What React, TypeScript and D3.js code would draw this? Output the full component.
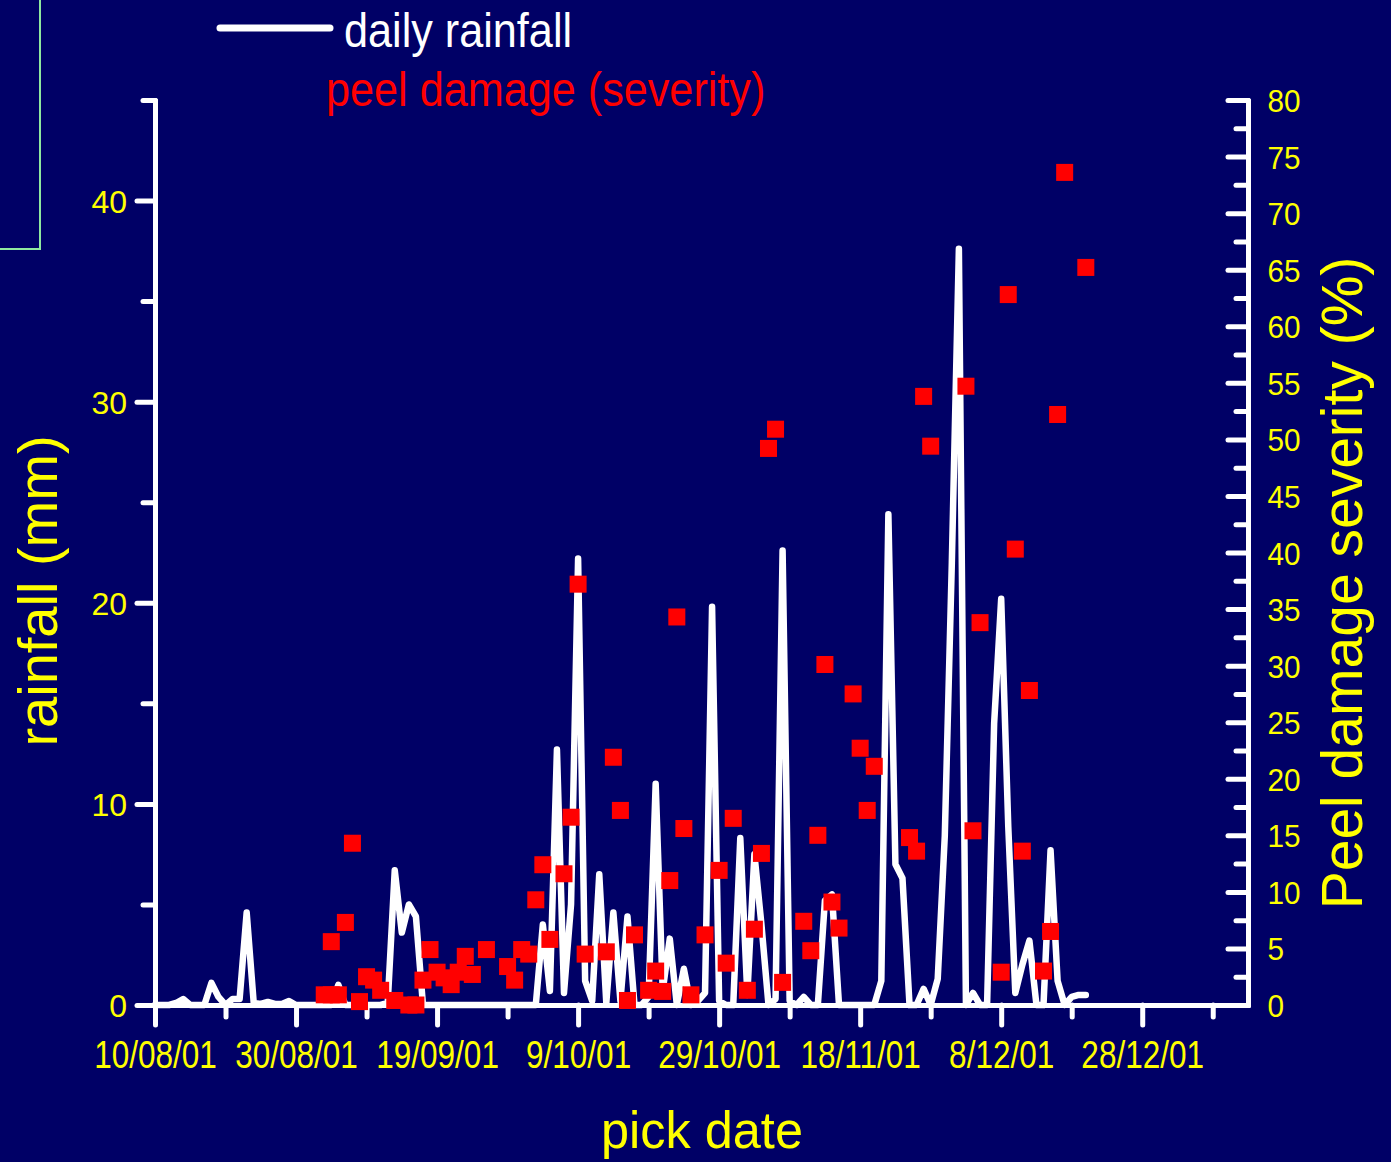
import React, { useEffect, useRef } from 'react';
import * as d3 from 'd3';

// daily rainfall (mm), one value per day starting 10/08/01
const rainStart = '2001-08-10';
const rainfallMm = [
  0, 0, 0, 0.1, 0.3, 0, 0, 0, 1.1, 0.4,
  0, 0.3, 0.3, 4.6, 0.1, 0.05, 0.15, 0.05, 0.05, 0.2,
  0, 0, 0, 0, 0, 0, 1.0, 0, 0, 0,
  0, 0, 0, 0.1, 6.7, 3.6, 5.0, 4.4, 0, 0,
  0, 0, 0, 0, 0, 0, 0, 0, 0, 0,
  0, 0, 0, 0, 0, 4.0, 0.7, 12.7, 0.6, 5.0,
  22.2, 1.2, 0.2, 6.5, 0.1, 4.6, 0.2, 4.4, 0, 0,
  0.4, 11.0, 0.7, 3.3, 0, 1.8, 0, 0.2, 0.6, 19.8,
  0.2, 0, 0, 8.3, 0.5, 7.5, 4.0, 0, 0.3, 22.6,
  0.2, 0, 0.4, 0, 0, 5.2, 5.5, 0, 0, 0,
  0, 0, 0, 1.2, 24.4, 7.0, 6.3, 0, 0, 0.8,
  0, 1.3, 8.4, 22.0, 37.6, 0, 0.6, 0, 0, 14.0,
  20.2, 8.9, 0.6, 2.0, 3.2, 0, 0, 7.7, 1.2, 0,
  0.4, 0.5, 0.5,
];

// peel damage picks: day offset from 10/08/01 and severity (%)
const pickDay = [
  24, 25, 26, 25, 27, 28, 29, 30, 31, 32,
  34, 36, 37, 38, 39, 40, 41, 42, 43, 44,
  45, 47, 50, 51, 52, 53, 54, 55, 56, 58,
  59, 60, 61, 64, 65, 66, 67, 68, 70, 71,
  72, 73, 74, 75, 76, 78, 80, 81, 82, 84,
  85, 86, 87, 88, 89, 92, 93, 94, 95, 96,
  97, 99, 100, 101, 102, 107, 108, 109, 110, 115,
  116, 117, 120, 121, 122, 123, 124, 126, 127, 128,
  129, 132,
];
const peelSeverity = [
  0.9, 0.9, 0.9, 5.6, 7.3, 14.3, 0.3, 2.5, 2.2, 1.3,
  0.4, 0, 0, 2.2, 4.9, 2.9, 2.4, 1.8, 2.9, 4.3,
  2.7, 4.9, 3.4, 2.2, 4.9, 4.5, 9.3, 12.4, 5.8, 11.6,
  16.6, 37.2, 4.5, 4.7, 21.9, 17.2, 0.4, 6.2, 1.3, 3.0,
  1.2, 11.0, 34.3, 15.6, 0.9, 6.2, 11.9, 3.7, 16.5, 1.3,
  6.7, 13.4, 49.2, 50.9, 2.0, 7.4, 4.8, 15.0, 30.1, 9.1,
  6.8, 27.5, 22.7, 17.2, 21.1, 14.8, 13.6, 53.8, 49.4, 54.7,
  15.4, 33.8, 2.9, 62.8, 40.3, 13.6, 27.8, 3.0, 6.5, 52.2,
  73.6, 65.2,
];

// axis ticks
const dateMajorDays = [0, 20, 40, 60, 80, 100, 120, 140];
const dateMinorDays = [10, 30, 50, 70, 90, 110, 130, 150];
const dateEndDay = 155;
const rainMajor = [0, 10, 20, 30, 40];
const rainMinor = [5, 15, 25, 35, 45];
const rainMax = 45;
const peelMajor = d3.range(0, 81, 5);
const peelMinor = d3.range(2.5, 80, 5);
const peelMax = 80;

const W = 1391;
const H = 1162;
const BG = '#000066';
const FONT = '"Liberation Sans", Arial, sans-serif';

function RainChart() {
  const ref = useRef<SVGSVGElement>(null);

  useEffect(() => {
    drawChart();
  }, []);

  function drawChart() {
    const svg = d3.select(ref.current);
    svg.selectAll('*').remove();

    const margin = { top: 100, right: 143, bottom: 157, left: 155 };
    const plotW = W - margin.left - margin.right;
    const plotH = H - margin.top - margin.bottom;

    const start = new Date(rainStart + 'T00:00:00Z');
    const day = (n: number) => d3.utcDay.offset(start, n);

    const x = d3.scaleUtc().domain([start, day(dateEndDay)]).range([0, plotW]);
    const yL = d3.scaleLinear().domain([0, rainMax]).range([plotH, 0]);
    const yR = d3.scaleLinear().domain([0, peelMax]).range([plotH, 0]);

    svg.append('rect').attr('width', W).attr('height', H).attr('fill', BG);

    // leftover frame in the corner
    svg.append('path')
      .attr('d', 'M40,-2 V249 H-2')
      .attr('fill', 'none')
      .attr('stroke', '#8fe8a0')
      .attr('stroke-width', 2);

    const g = svg.append('g').attr('transform', `translate(${margin.left},${margin.top})`);

    const styleAxis = (sel: any) => {
      sel.selectAll('path.domain')
        .attr('stroke', '#fff')
        .attr('stroke-width', 5)
        .attr('stroke-linecap', 'round');
      sel.selectAll('.tick line')
        .attr('stroke', '#fff')
        .attr('stroke-width', 5)
        .attr('stroke-linecap', 'round');
      sel.selectAll('.tick text')
        .attr('fill', '#ffff00')
        .attr('font-family', FONT);
    };

    // x axis (pick date)
    const xMinor = g.append('g').attr('transform', `translate(0,${plotH})`)
      .call(d3.axisBottom(x).tickValues(dateMinorDays.map(day)).tickSize(12).tickSizeOuter(0).tickFormat(() => ''));
    styleAxis(xMinor);
    const xMajor = g.append('g').attr('transform', `translate(0,${plotH})`)
      .call(d3.axisBottom(x).tickValues(dateMajorDays.map(day)).tickSize(20).tickSizeOuter(0)
        .tickFormat((d: any) => d3.utcFormat('%-d/%m/%y')(d)));
    styleAxis(xMajor);
    xMajor.selectAll('.tick text')
      .attr('y', 63).attr('dy', 0)
      .style('font-size', '38px')
      .attr('transform', 'scale(0.83,1)');

    // left axis (rainfall)
    const lMinor = g.append('g')
      .call(d3.axisLeft(yL).tickValues(rainMinor).tickSize(12).tickSizeOuter(0).tickFormat(() => ''));
    styleAxis(lMinor);
    const lMajor = g.append('g')
      .call(d3.axisLeft(yL).tickValues(rainMajor).tickSize(18).tickSizeOuter(0));
    styleAxis(lMajor);
    lMajor.selectAll('.tick text')
      .attr('x', -28).attr('dy', '0.36em')
      .style('font-size', '32px');

    // right axis (peel damage), ticks point inward, labels outside
    const rMinor = g.append('g').attr('transform', `translate(${plotW},0)`)
      .call(d3.axisLeft(yR).tickValues(peelMinor).tickSize(12).tickSizeOuter(0).tickFormat(() => ''));
    styleAxis(rMinor);
    const rMajor = g.append('g').attr('transform', `translate(${plotW},0)`)
      .call(d3.axisLeft(yR).tickValues(peelMajor).tickSize(20).tickSizeOuter(0));
    styleAxis(rMajor);
    rMajor.selectAll('.tick text')
      .attr('x', 21).attr('dy', '0.36em')
      .attr('text-anchor', 'start')
      .style('font-size', '32px')
      .attr('transform', 'scale(0.93,1)');

    // rainfall line
    const rain = rainfallMm.map((mm, i) => ({ date: day(i), mm }));
    const line = d3.line<any>().x(d => x(d.date)).y(d => yL(d.mm));
    g.append('path')
      .datum(rain)
      .attr('d', line)
      .attr('fill', 'none')
      .attr('stroke', '#fff')
      .attr('stroke-width', 6.5)
      .attr('stroke-linejoin', 'round')
      .attr('stroke-linecap', 'round');

    // peel damage squares
    const picks = pickDay.map((d, i) => ({ date: day(d), v: peelSeverity[i] }));
    const sq = 17;
    g.append('g')
      .selectAll('rect')
      .data(picks).enter()
      .append('rect')
      .attr('x', d => x(d.date) - sq / 2)
      .attr('y', d => yR(d.v) - sq / 2)
      .attr('width', sq)
      .attr('height', sq)
      .attr('fill', '#ff0000');

    // axis titles
    svg.append('text')
      .attr('transform', 'translate(57,591) rotate(-90)')
      .attr('text-anchor', 'middle')
      .attr('font-family', FONT)
      .style('font-size', '56px')
      .attr('fill', '#ffff00')
      .text('rainfall (mm)');

    svg.append('text')
      .attr('transform', 'translate(1362,583) rotate(-90)')
      .attr('text-anchor', 'middle')
      .attr('font-family', FONT)
      .style('font-size', '57px')
      .attr('fill', '#ffff00')
      .text('Peel damage severity (%)');

    svg.append('text')
      .attr('transform', 'translate(702,1148) scale(0.97,1)')
      .attr('text-anchor', 'middle')
      .attr('font-family', FONT)
      .style('font-size', '52px')
      .attr('fill', '#ffff00')
      .text('pick date');

    // legend
    svg.append('line')
      .attr('x1', 220).attr('x2', 330)
      .attr('y1', 28).attr('y2', 28)
      .attr('stroke', '#fff')
      .attr('stroke-width', 7)
      .attr('stroke-linecap', 'round');
    svg.append('text')
      .attr('transform', 'translate(344,47) scale(0.9,1)')
      .attr('font-family', FONT)
      .style('font-size', '48px')
      .attr('fill', '#fff')
      .text('daily rainfall');
    svg.append('text')
      .attr('transform', 'translate(326,106) scale(0.9,1)')
      .attr('font-family', FONT)
      .style('font-size', '48px')
      .attr('fill', '#ff0000')
      .text('peel damage (severity)');
  }

  return (
    <svg
      ref={ref}
      width={W}
      height={H}
      style={{ position: 'absolute', left: 0, top: 0, display: 'block' }}
    />
  );
}

export default function App() {
  return <RainChart />;
}
